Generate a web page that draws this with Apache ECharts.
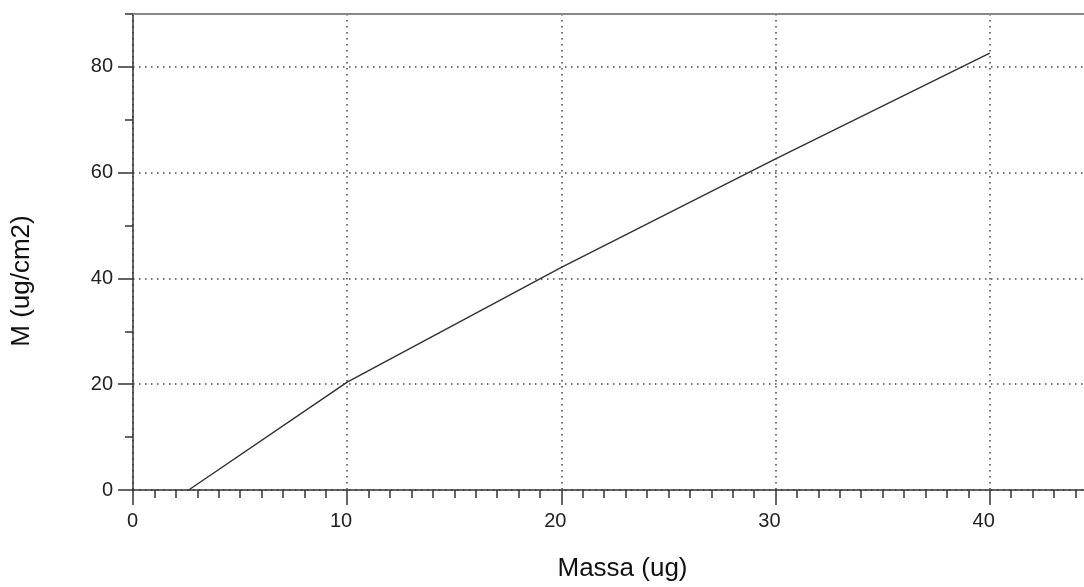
<!DOCTYPE html>
<html>
<head>
<meta charset="utf-8">
<script src="https://cdn.jsdelivr.net/npm/echarts@6/dist/echarts.min.js"></script>
<style>
html,body{margin:0;padding:0;background:#fff;}
#chart{width:1084px;height:587px;}
</style>
</head>
<body>
<div id="chart"></div>
<script>
// Data
const massa = [2.6, 10, 20, 30, 40];
const mValues = [0, 20.4, 42.1, 62.6, 82.6];
const xTickValues = [0, 10, 20, 30, 40];
const xMinorTickValues = [0, 1, 2, 3, 4, 5, 6, 7, 8, 9, 10, 11, 12, 13, 14, 15, 16, 17, 18, 19, 20,
  21, 22, 23, 24, 25, 26, 27, 28, 29, 30, 31, 32, 33, 34, 35, 36, 37, 38, 39, 40, 41, 42, 43, 44];
const yTickValues = [0, 20, 40, 60, 80];
const yMinorTickValues = [0, 10, 20, 30, 40, 50, 60, 70, 80, 90];
const xTitle = 'Massa (ug)';
const yTitle = 'M (ug/cm2)';

const seriesData = massa.map((x, i) => [x, mValues[i]]);

const font = 'Liberation Sans, Arial, Helvetica, sans-serif';
const axisColor = '#333';
const gridDots = { color: '#444', width: 1.5, type: [1.5, 4.5] };

const chart = echarts.init(document.getElementById('chart'), null, { renderer: 'canvas' });
chart.setOption({
  animation: false,
  backgroundColor: '#fff',
  grid: { left: 133, top: 14, right: 0, bottom: 95.5, containLabel: false },
  xAxis: [
    {
      type: 'value', min: 0, max: 44.4, interval: 10,
      position: 'bottom',
      name: xTitle, nameLocation: 'middle', nameGap: 66,
      nameTextStyle: { fontFamily: font, fontSize: 26, color: '#111', padding: [0, 0, 0, 28] },
      axisLine: { show: true, lineStyle: { color: axisColor, width: 1.5 } },
      axisTick: { show: true, length: 15, customValues: xTickValues, lineStyle: { color: axisColor, width: 1.5 } },
      axisLabel: { customValues: xTickValues, margin: 21, align: 'right', padding: [0, -5, 0, 0],
        fontFamily: font, fontSize: 20, color: '#222' },
      splitLine: { show: true, lineStyle: gridDots }
    },
    {
      type: 'value', min: 0, max: 44.4, interval: 1,
      position: 'bottom',
      axisLine: { show: false },
      axisTick: { show: true, length: 8, customValues: xMinorTickValues, lineStyle: { color: axisColor, width: 1.5 } },
      axisLabel: { show: false },
      splitLine: { show: false }
    },
    {
      type: 'value', min: 0, max: 44.4,
      position: 'top',
      axisLine: { show: true, lineStyle: { color: '#888', width: 2 } },
      axisTick: { show: false },
      axisLabel: { show: false },
      splitLine: { show: false }
    }
  ],
  yAxis: [
    {
      type: 'value', min: 0, max: 90, interval: 20,
      position: 'left',
      name: yTitle, nameLocation: 'middle', nameGap: 98,
      nameTextStyle: { fontFamily: font, fontSize: 26, color: '#111', padding: [0, 58, 0, 0] },
      axisLine: { show: true, lineStyle: { color: axisColor, width: 1.5 } },
      axisTick: { show: true, length: 15, customValues: yTickValues, lineStyle: { color: axisColor, width: 1.5 } },
      axisLabel: { customValues: yTickValues, margin: 20, fontFamily: font, fontSize: 20, color: '#222' },
      splitLine: { show: true, lineStyle: gridDots }
    },
    {
      type: 'value', min: 0, max: 90, interval: 10,
      position: 'left',
      axisLine: { show: false },
      axisTick: { show: true, length: 8, customValues: yMinorTickValues, lineStyle: { color: axisColor, width: 1.5 } },
      axisLabel: { show: false },
      splitLine: { show: false }
    }
  ],
  series: [
    {
      type: 'line',
      xAxisIndex: 0, yAxisIndex: 0,
      data: seriesData,
      showSymbol: false,
      symbol: 'none',
      lineStyle: { color: '#333', width: 1.5 },
      z: 5
    }
  ]
});
</script>
</body>
</html>
